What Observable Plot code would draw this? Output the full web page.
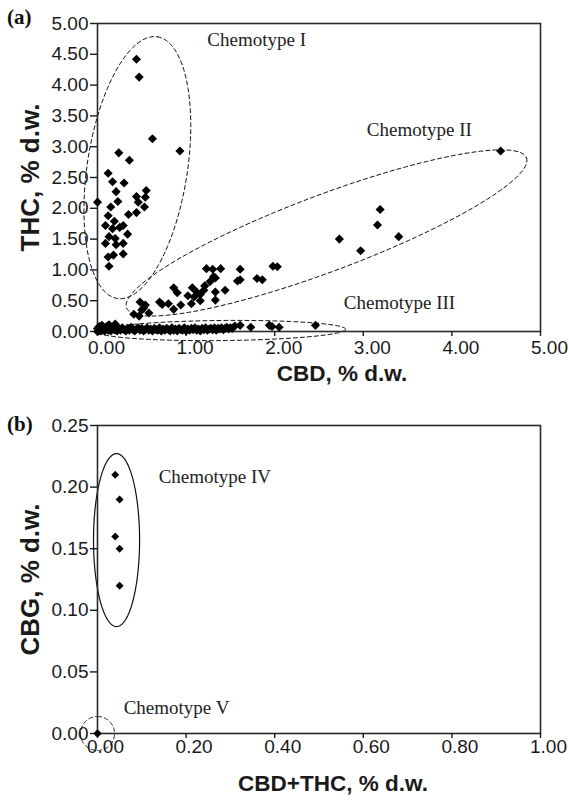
<!DOCTYPE html>
<html><head><meta charset="utf-8">
<script src="https://cdn.jsdelivr.net/npm/d3@7"></script>
<script src="https://cdn.jsdelivr.net/npm/@observablehq/plot@0.6"></script>
<style>
body{margin:0;background:#fff;}
#wrap{position:relative;width:569px;height:801px;overflow:hidden;}
.tag{position:absolute;font:bold 21px "Liberation Serif","Times New Roman",serif;color:#111;}
svg{display:block;}
</style>
</head><body>
<div id="wrap"><div id="a"></div><div id="b"></div>
<span class="tag" style="left:7px;top:5px">(a)</span>
<span class="tag" style="left:7px;top:412px">(b)</span>
</div>
<script>
// ---------- data: panel (a) ----------
const xTicksA = [0, 1, 2, 3, 4, 5];
const yTicksA = [0, 0.5, 1, 1.5, 2, 2.5, 3, 3.5, 4, 4.5, 5];
const xLabelA = "CBD, % d.w.";
const yLabelA = "THC, % d.w.";

const chemI_cbd = [0.44,0.47,0.62,0.93,0.24,0.36,0.12,0.17,0.30,0.21,0.55,0.44,0.23,0.54,0.00,0.46,0.15,0.53,0.44,0.35,0.12,0.19,0.09,0.29,0.17,0.25,0.34,0.13,0.20,0.09,0.29,0.21,0.18,0.12,0.29,0.13];
const chemI_thc = [4.42,4.13,3.13,2.93,2.90,2.78,2.57,2.43,2.41,2.27,2.29,2.19,2.11,2.18,2.10,2.10,2.02,2.02,1.93,1.90,1.88,1.79,1.72,1.72,1.67,1.69,1.58,1.54,1.51,1.43,1.43,1.41,1.24,1.21,1.26,1.06];

const chemII_cbd = [1.23,1.30,1.39,1.61,1.98,2.03,1.31,1.33,1.58,1.61,1.80,1.86,1.27,1.21,1.07,0.86,1.12,1.33,1.44,0.90,1.02,1.09,1.16,1.20,1.33,1.16,1.06,0.94,0.80,0.70,0.73,0.86,0.48,0.54,0.50,0.58,0.41,0.47,0.52,3.19,3.16,2.73,3.40,2.97,4.55];
const chemII_thc = [1.02,1.01,1.02,1.01,1.06,1.05,0.89,0.87,0.82,0.84,0.86,0.84,0.81,0.74,0.71,0.71,0.64,0.64,0.67,0.63,0.58,0.56,0.60,0.67,0.51,0.50,0.45,0.43,0.45,0.48,0.44,0.36,0.48,0.43,0.35,0.30,0.28,0.25,0.38,1.98,1.73,1.50,1.54,1.31,2.93];

const chemIII_cbd = [0.00,0.00,0.01,0.02,0.03,0.04,0.05,0.06,0.07,0.08,0.10,0.11,0.12,0.14,0.15,0.17,0.19,0.20,0.22,0.24,0.26,0.28,0.30,0.32,0.34,0.36,0.38,0.40,0.42,0.44,0.46,0.48,0.50,0.52,0.54,0.56,0.58,0.60,0.62,0.64,0.66,0.68,0.70,0.72,0.74,0.76,0.78,0.80,0.82,0.84,0.86,0.88,0.90,0.92,0.94,0.96,0.98,1.00,1.02,1.04,1.06,1.08,1.10,1.12,1.14,1.16,1.18,1.20,1.22,1.24,1.26,1.28,1.30,1.32,1.34,1.36,1.38,1.40,1.42,1.44,1.46,1.48,1.50,1.52,1.55,1.61,1.73,1.94,1.97,2.05,2.46,0.20,0.05,0.10,0.13];
const chemIII_thc = [0.00,0.05,0.02,0.08,0.01,0.04,0.10,0.02,0.06,0.01,0.04,0.09,0.02,0.05,0.01,0.07,0.03,0.12,0.01,0.05,0.02,0.06,0.03,0.01,0.05,0.02,0.07,0.03,0.01,0.04,0.06,0.02,0.05,0.01,0.03,0.06,0.02,0.04,0.01,0.05,0.03,0.02,0.06,0.01,0.04,0.02,0.05,0.03,0.01,0.06,0.02,0.04,0.01,0.05,0.03,0.02,0.06,0.01,0.04,0.02,0.05,0.03,0.06,0.02,0.04,0.01,0.05,0.03,0.06,0.02,0.04,0.05,0.03,0.06,0.02,0.05,0.04,0.06,0.03,0.05,0.07,0.04,0.06,0.05,0.09,0.10,0.07,0.10,0.08,0.07,0.10,0.03,0.09,0.07,0.11];

// ---------- data: panel (b) ----------
const xTicksB = [0, 0.2, 0.4, 0.6, 0.8, 1.0];
const yTicksB = [0, 0.05, 0.10, 0.15, 0.20, 0.25];
const xLabelB = "CBD+THC, % d.w.";
const yLabelB = "CBG, % d.w.";
const chemIV_sum = [0.04,0.05,0.04,0.05,0.05];
const chemIV_cbg = [0.21,0.19,0.16,0.15,0.12];
const chemV_sum = [0.00,0.00];
const chemV_cbg = [0.00,0.00];

// chemotype labels
const labelsA = [
  {x: 1.24, y: 4.74, t: "Chemotype I"},
  {x: 3.04, y: 3.28, t: "Chemotype II"},
  {x: 2.78, y: 0.46, t: "Chemotype III"}
];
const labelsB = [
  {x: 0.138, y: 0.208, t: "Chemotype IV"},
  {x: 0.059, y: 0.021, t: "Chemotype V"}
];

// enclosing ellipses (center, half-axis vectors in data units)
const ellA = [
  {c:[0.45,2.66], u:[0.226,2.124], v:[0.559,-0.123]},
  {c:[2.585,1.60], u:[2.257,1.217], v:[0.150,-0.582]},
  {c:[1.40,0.016], u:[1.40,0.02], v:[0.0,0.163]}
];
const ellB = [
  {c:[0.043,0.157], u:[0,0.0702], v:[0.052,0]},
  {c:[0.0,0.0], u:[0,0.0138], v:[0.0384,0]}
];

// ---------- helpers ----------
const zip = (xs, ys) => xs.map((x, i) => ({x, y: ys[i]}));
function outline(e, id) {
  const pts = [];
  for (let k = 0; k <= 160; k++) {
    const t = 2 * Math.PI * k / 160;
    pts.push({id, x: e.c[0] + Math.cos(t)*e.u[0] + Math.sin(t)*e.v[0],
                  y: e.c[1] + Math.cos(t)*e.u[1] + Math.sin(t)*e.v[1]});
  }
  return pts;
}
const fmt = d3.format(".2f");
const SANS = "'Liberation Sans', Arial, Helvetica, sans-serif";
const SERIF = "'Liberation Serif', 'Times New Roman', serif";

// ---------- panel (a) ----------
const ptsA = [...zip(chemI_cbd, chemI_thc), ...zip(chemII_cbd, chemII_thc), ...zip(chemIII_cbd, chemIII_thc)];
const ellPtsA = ellA.flatMap((e, i) => outline(e, i));

const plotA = Plot.plot({
  width: 569, height: 395,
  marginLeft: 97, marginRight: 29, marginTop: 23, marginBottom: 64,
  style: {fontFamily: SANS, fontSize: "19px", color: "#1a1a1a", background: "#fff", overflow: "visible"},
  x: {domain: [0, 5]},
  y: {domain: [0, 5]},
  marks: [
    Plot.line(ellPtsA, {x: "x", y: "y", z: "id", stroke: "#111", strokeWidth: 1, strokeDasharray: "4,3", curve: "linear"}),
    Plot.frame({stroke: "#2a2a2a", strokeWidth: 1.6}),
    Plot.axisX({ticks: xTicksA, tickSize: 5, tickFormat: () => "", label: null, strokeWidth: 1.4}),
    Plot.text(xTicksA, {x: d => d, text: d => fmt(d), frameAnchor: "bottom", lineAnchor: "top", dy: 9, dx: 9, fontSize: 19}),
    Plot.axisY({ticks: yTicksA, tickSize: 7, tickPadding: 2, tickFormat: fmt, label: null, fontSize: 19, strokeWidth: 1.4}),
    Plot.dot(ptsA, {x: "x", y: "y", symbol: "diamond2", r: 4.1, fill: "#000", stroke: null}),
    Plot.text(labelsA, {x: "x", y: "y", text: "t", textAnchor: "start", fontFamily: SERIF, fontSize: 19, fill: "#222"}),
    Plot.text([xLabelA], {frameAnchor: "bottom", dy: 49, dx: 23, fontWeight: "bold", fontSize: 22.5}),
    Plot.text([yLabelA], {frameAnchor: "left", textAnchor: "middle", rotate: -90, dx: -67, fontWeight: "bold", fontSize: 26})
  ]
});
document.getElementById("a").appendChild(plotA);

// ---------- panel (b) ----------
const ptsB = [...zip(chemIV_sum, chemIV_cbg), ...zip(chemV_sum, chemV_cbg)];
const plotB = Plot.plot({
  width: 569, height: 406,
  marginLeft: 97, marginRight: 29, marginTop: 30, marginBottom: 68,
  style: {fontFamily: SANS, fontSize: "19px", color: "#1a1a1a", background: "#fff", overflow: "visible"},
  x: {domain: [0, 1]},
  y: {domain: [0, 0.25]},
  marks: [
    Plot.line(outline(ellB[0], 0), {x: "x", y: "y", stroke: "#111", strokeWidth: 1.2}),
    Plot.line(outline(ellB[1], 1), {x: "x", y: "y", stroke: "#111", strokeWidth: 1, strokeDasharray: "4,3"}),
    Plot.frame({stroke: "#2a2a2a", strokeWidth: 1.6}),
    Plot.axisX({ticks: xTicksB, tickSize: 5, tickFormat: () => "", label: null, strokeWidth: 1.4}),
    Plot.text(xTicksB, {x: d => d, text: d => fmt(d), frameAnchor: "bottom", lineAnchor: "top", dy: 6, dx: 8, fontSize: 19}),
    Plot.axisY({ticks: yTicksB, tickSize: 7, tickPadding: 2, tickFormat: fmt, label: null, fontSize: 19, strokeWidth: 1.4}),
    Plot.dot(ptsB, {x: "x", y: "y", symbol: "diamond2", r: 3.6, fill: "#000", stroke: null}),
    Plot.text(labelsB, {x: "x", y: "y", text: "t", textAnchor: "start", fontFamily: SERIF, fontSize: 19, fill: "#222"}),
    Plot.text([xLabelB], {frameAnchor: "bottom", dy: 57, dx: 14, fontWeight: "bold", fontSize: 22.5}),
    Plot.text([yLabelB], {frameAnchor: "left", textAnchor: "middle", rotate: -90, dx: -67, fontWeight: "bold", fontSize: 26})
  ]
});
document.getElementById("b").appendChild(plotB);
</script>
</body></html>
